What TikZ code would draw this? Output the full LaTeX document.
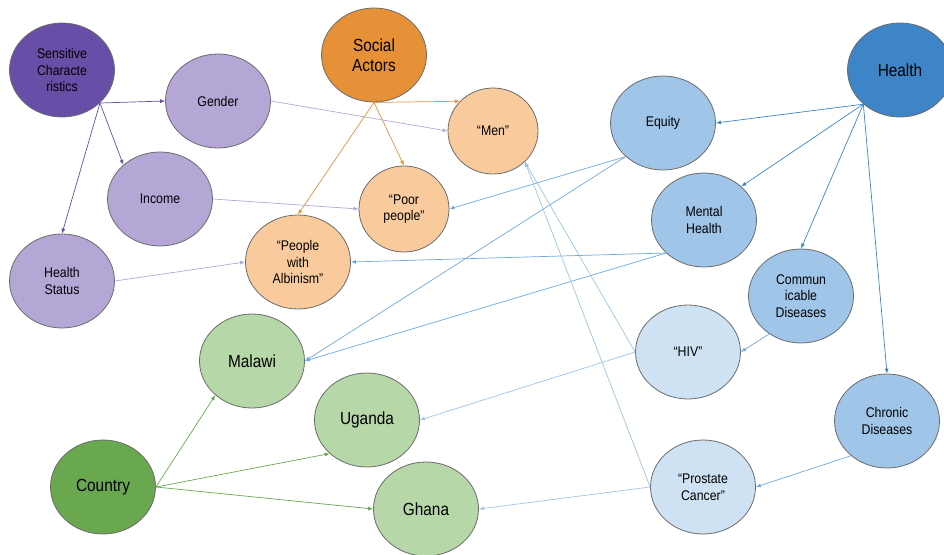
\documentclass[tikz,border=0pt]{standalone}
\usepackage{fontspec}
\setmainfont{Liberation Sans}[FakeStretch=0.88]
\usetikzlibrary{shapes.geometric,arrows.meta}
\definecolor{purpleD}{HTML}{674EA7}
\definecolor{purpleL}{HTML}{B4A7D6}
\definecolor{orangeD}{HTML}{E69138}
\definecolor{orangeL}{HTML}{F9CB9C}
\definecolor{blueD}{HTML}{3D85C6}
\definecolor{blueM}{HTML}{6FA8DC}
\definecolor{blueL}{HTML}{9FC5E8}
\definecolor{blueP}{HTML}{CFE2F3}
\definecolor{greenD}{HTML}{6AA84F}
\definecolor{greenL}{HTML}{B6D7A8}
\definecolor{rimgray}{HTML}{6B6B6B}

\begin{document}
\begin{tikzpicture}[x=1pt,y=-1pt]
        \tikzset{bubble/.style={ellipse,draw=rimgray,line width=0.8pt,
            minimum width=105pt,minimum height=94pt,inner sep=0pt,align=center,
            font=\fontsize{14}{16.5}\selectfont},
          small/.style={minimum width=90pt,minimum height=86pt},
          big/.style={font=\fontsize{17.5}{20}\selectfont},
          link/.style={-{Latex[length=5pt,width=4pt]},line width=0.7pt}}
        \useasboundingbox (0,0) rectangle (944,554);
        % sensitive characteristics
        \node[bubble,fill=purpleD] (sens) at (62,70) {Sensitive\\Characte\\ristics};
        \node[bubble,fill=purpleL] (gender) at (218,101) {Gender};
        \node[bubble,fill=purpleL] (income) at (160,199) {Income};
        \node[bubble,fill=purpleL] (hstatus) at (62,281) {Health\\Status};
        % social actors
        \node[bubble,big,fill=orangeD] (actors) at (374,55) {Social\\Actors};
        \node[bubble,small,fill=orangeL] (men) at (493,131) {“Men”};
        \node[bubble,small,fill=orangeL] (poor) at (404,209) {“Poor\\people"};
        \node[bubble,fill=orangeL] (albin) at (298,262) {“People\\with\\Albinism”};
        % health
        \node[bubble,big,fill=blueD] (health) at (900,70) {Health};
        \node[bubble,fill=blueL] (equity) at (663,123) {Equity};
        \node[bubble,fill=blueL] (mental) at (704,220) {Mental\\Health};
        \node[bubble,fill=blueL] (commun) at (801,296) {Commun\\icable\\Diseases};
        \node[bubble,fill=blueL] (chronic) at (887,421) {Chronic\\Diseases};
        \node[bubble,fill=blueP] (hiv) at (688,352) {“HIV”};
        \node[bubble,fill=blueP] (prostate) at (703,487) {“Prostate\\Cancer”};
        % country
        \node[bubble,big,fill=greenD] (country) at (103,487) {Country};
        \node[bubble,big,fill=greenL] (malawi) at (252,361) {Malawi};
        \node[bubble,big,fill=greenL] (uganda) at (367,420) {Uganda};
        \node[bubble,big,fill=greenL] (ghana) at (426,509) {Ghana};

        \draw[link,purpleD] (sens.-41) -- (gender.west);
        \draw[link,purpleD] (sens.-41) -- (income.137);
        \draw[link,purpleD] (sens.-41) -- (hstatus.north);
        \draw[link,purpleL] (gender.east) -- (men.west);
        \draw[link,purpleL] (income.east) -- (poor.west);
        \draw[link,purpleL] (hstatus.east) -- (albin.west);

        \draw[link,orangeD] (actors.south) -- (men.138);
        \draw[link,orangeD] (actors.south) -- (poor.north);
        \draw[link,orangeD] (actors.south) -- (albin.north);

        \draw[link,blueD] (health.223) -- (equity.east);
        \draw[link,blueD] (health.223) -- (mental.42);
        \draw[link,blueD] (health.223) -- (commun.north);
        \draw[link,blueD] (health.223) -- (chronic.north);
        \draw[link,blueM] (equity.222) -- (poor.east);
        \draw[link,blueM] (equity.222) -- (malawi.east);
        \draw[link,blueM] (mental.221) -- (albin.east);
        \draw[link,blueM] (mental.221) -- (malawi.east);
        \draw[link,blueM] (commun.230) -- (hiv.east);
        \draw[link,blueM] (chronic.224) -- (prostate.east);
        \draw[link,blueL] (hiv.west) -- (uganda.east);
        \draw[link,blueL] (hiv.west) -- (men.-44);
        \draw[link,blueL] (prostate.west) -- (men.-44);
        \draw[link,blueL] (prostate.west) -- (ghana.east);

        \draw[link,greenD] (country.east) -- (malawi.223);
        \draw[link,greenD] (country.east) -- (uganda.222);
        \draw[link,greenD] (country.east) -- (ghana.west);
      \end{tikzpicture}
\end{document}
